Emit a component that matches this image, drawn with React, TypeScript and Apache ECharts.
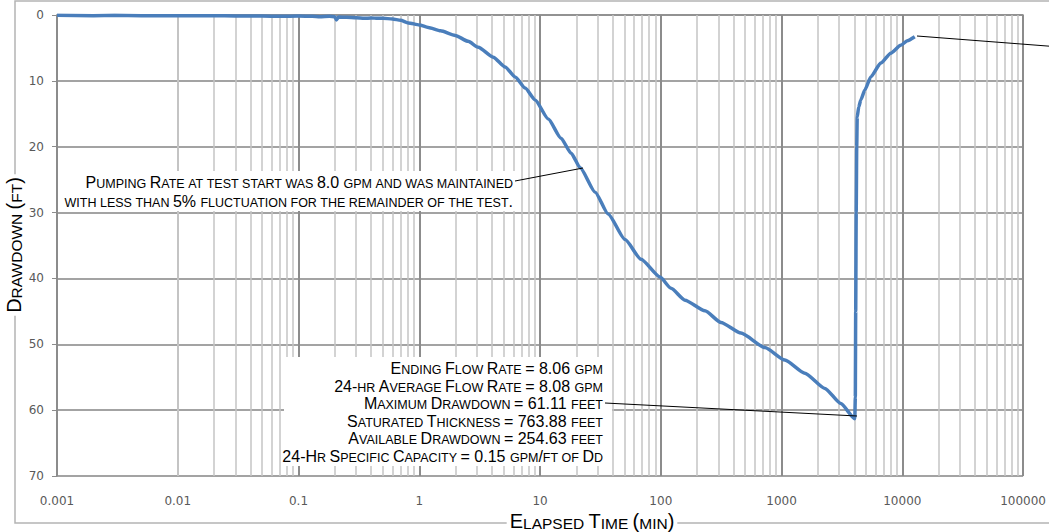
import React, { useEffect, useRef } from "react";
import * as echarts from "echarts";

// ---- data ----
const elapsedTime: number[] = [
  0.001, 0.002, 0.003, 0.005, 0.007, 0.01, 0.02, 0.03, 0.05, 0.07, 0.1, 0.13, 0.15, 0.18, 0.2, 0.206, 0.215,
  0.25, 0.3, 0.35, 0.4, 0.45, 0.5, 0.6, 0.7, 0.811, 1.0, 1.187, 1.5, 1.985, 2.54, 3.08, 4.09, 5.14, 6.22,
  7.53, 9.11, 11.7, 14.9, 18.1, 21.5, 28.6, 36.6, 50.6, 68.6, 98.5, 121.5, 158.6, 232, 315, 461, 728,
  1065, 1558, 2281, 3094, 4040,
  4080, 4110, 4150, 4190, 4230, 4350, 4530, 4890, 5480, 6630, 8020, 9700, 11000, 12670,
];
const drawdownFt: number[] = [
  0.05, 0.1, 0.05, 0.1, 0.1, 0.1, 0.1, 0.15, 0.15, 0.2, 0.15, 0.2, 0.25, 0.2, 0.25, 0.75, 0.3,
  0.35, 0.4, 0.5, 0.45, 0.5, 0.5, 0.6, 0.8, 1.2, 1.5, 1.9, 2.4, 3.1, 4.0, 4.9, 6.4, 7.9, 9.4,
  11.1, 12.9, 15.8, 18.7, 21.0, 23.2, 26.9, 30.2, 34.1, 37.1, 39.8, 41.5, 43.3, 44.9, 46.7, 48.3, 50.5,
  52.4, 54.4, 56.7, 59.0, 61.3,
  58, 45, 30, 20, 15.5, 14, 12.9, 11.4, 9.4, 7.3, 5.8, 4.6, 3.9, 3.3,
];
const xTickLabels: string[] = ["0.001", "0.01", "0.1", "1", "10", "100", "1000", "10000", "100000"];
const xMinExp = -3;
const yTicks: number[] = [0, 10, 20, 30, 40, 50, 60, 70];

const pumpingNote: string[] = [
  "Pumping Rate at test start was 8.0 gpm and was maintained",
  "with less than 5% fluctuation for the remainder of the test.",
];
const summaryNote: string[] = [
  "Ending Flow Rate = 8.06 gpm",
  "24-hr Average Flow Rate = 8.08 gpm",
  "Maximum Drawdown = 61.11 feet",
  "Saturated Thickness = 763.88 feet",
  "Available Drawdown = 254.63 feet",
  "24-Hr Specific Capacity = 0.15 gpm/ft of Dd",
];
const xTitle = "Elapsed Time (min)";
const yTitle = "Drawdown (ft)";

const FONT = "'Liberation Sans', Arial, sans-serif";
const TICK_FONT = "'DejaVu Sans', Verdana, sans-serif";

function smallCaps(str: string, big: number, small: number, color = "#000") {
  let out = "";
  let cur = "";
  let curCls = "";
  const flush = () => {
    if (cur) out += `{${curCls}|${cur}}`;
    cur = "";
  };
  for (const ch of str) {
    let cls: string;
    if (ch === " ") cls = curCls || "b";
    else if (ch >= "a" && ch <= "z") cls = "s";
    else cls = "b";
    if (cls !== curCls) {
      flush();
      curCls = cls;
    }
    const c = ch === " " ? "\u00A0" : cls === "s" ? ch.toUpperCase() : ch;
    cur += c;
  }
  flush();
  const lh = Math.round(big * 1.2);
  return {
    text: out,
    rich: {
      b: { fontSize: big, fontFamily: FONT, fill: color, verticalAlign: "bottom", lineHeight: lh },
      s: { fontSize: small, fontFamily: FONT, fill: color, verticalAlign: "bottom", lineHeight: lh },
    },
  };
}

function textEl(str: string, x: number, y: number, align: string, big: number, small: number, extra: any = {}) {
  const sc = smallCaps(str, big, small);
  const { style: extraStyle, ...rest } = extra;
  return {
    type: "text",
    x,
    y,
    z: 20,
    ...rest,
    style: {
      text: sc.text,
      rich: sc.rich,
      align,
      verticalAlign: "middle",
      ...(extraStyle || {}),
    },
  };
}

export default function App() {
  const ref = useRef<HTMLDivElement>(null);
  useEffect(() => {
    document.body.style.margin = "0";
    if (!ref.current) return;
    const chart = echarts.init(ref.current, undefined, { renderer: "svg" });

    const minorLines: any[] = [];
    for (let e = xMinExp; e < xMinExp + xTickLabels.length - 1; e++) {
      for (let m = 2; m <= 9; m++) {
        minorLines.push({ xAxis: m * Math.pow(10, e) });
      }
    }

    const seriesData = elapsedTime.map((t, i) => [t, drawdownFt[i]]);

    const graphics: any[] = [
      // outer border
      {
        type: "rect",
        z: 0,
        shape: { x: 15, y: 1, width: 1100, height: 522 },
        style: { fill: "none", stroke: "#b4b4b4", lineWidth: 1.5 },
      },
      // pumping note box
      {
        type: "rect",
        z: 15,
        shape: { x: 72, y: 171, width: 445, height: 40 },
        style: { fill: "#fff" },
      },
      textEl(pumpingNote[0], 513, 181, "right", 16, 12.5),
      textEl(pumpingNote[1], 513, 200, "right", 16, 12.5),
      {
        type: "line",
        z: 21,
        shape: { x1: 515, y1: 181, x2: 583, y2: 168 },
        style: { stroke: "#000", lineWidth: 1 },
      },
      // summary box
      {
        type: "rect",
        z: 15,
        shape: { x: 284, y: 357, width: 328, height: 109 },
        style: { fill: "#fff" },
      },
      ...summaryNote.map((s, i) => textEl(s, 603, 367 + i * 17.6, "right", 16, 12.5)),
      {
        type: "line",
        z: 21,
        shape: { x1: 605, y1: 403, x2: 857, y2: 416 },
        style: { stroke: "#000", lineWidth: 1 },
      },
      // top-right leader
      {
        type: "line",
        z: 21,
        shape: { x1: 917, y1: 36, x2: 1060, y2: 47 },
        style: { stroke: "#000", lineWidth: 1 },
      },
      // axis titles
      textEl(xTitle, 592, 519, "center", 20, 15.5, {
        style: { backgroundColor: "#fff", padding: [0, 3] },
      }),
      textEl(yTitle, 12, 245, "center", 20, 15.5, {
        rotation: Math.PI / 2,
        style: { backgroundColor: "#fff", padding: [0, 3] },
      }),
    ];

    chart.setOption({
      animation: false,
      backgroundColor: "#fff",
      grid: { left: 57, right: 25, top: 15, bottom: 56, containLabel: false },
      xAxis: {
        type: "log",
        logBase: 10,
        min: Math.pow(10, xMinExp),
        max: Math.pow(10, xMinExp + xTickLabels.length - 1),
        splitNumber: xTickLabels.length - 1,
        axisLine: { show: true, lineStyle: { color: "#8c8c8c", width: 1.5 } },
        axisTick: { show: true, length: 4, lineStyle: { color: "#8c8c8c" } },
        axisLabel: {
          margin: 19,
          color: "#595959",
          fontSize: 12,
          fontFamily: TICK_FONT,
          formatter: (v: number) => {
            const idx = Math.round(Math.log10(v)) - xMinExp;
            return xTickLabels[idx] ?? "";
          },
        },
        splitLine: { show: true, lineStyle: { color: "#8c8c8c", width: 2 } },
      },
      yAxis: {
        type: "value",
        inverse: true,
        min: yTicks[0],
        max: yTicks[yTicks.length - 1],
        interval: yTicks[1] - yTicks[0],
        axisLine: { show: true, lineStyle: { color: "#8c8c8c", width: 1.5 } },
        axisTick: { show: true, length: 5, lineStyle: { color: "#8c8c8c" } },
        axisLabel: { margin: 13, color: "#595959", fontSize: 12, fontFamily: TICK_FONT },
        splitLine: { show: true, lineStyle: { color: "#a3a3a3", width: 2 } },
      },
      series: [
        {
          type: "line",
          z: 1,
          silent: true,
          data: [[Math.pow(10, xMinExp), 0]],
          showSymbol: false,
          symbol: "none",
          lineStyle: { opacity: 0 },
          markLine: {
            silent: true,
            symbol: ["none", "none"],
            label: { show: false },
            lineStyle: { type: "solid", color: "#c4c4c4", width: 1.5 },
            data: minorLines,
          },
        },
        {
          type: "line",
          z: 5,
          data: seriesData,
          showSymbol: false,
          symbol: "none",
          smooth: 0.2,
          smoothMonotone: "x",
          lineStyle: { color: "#4a7ebb", width: 3.5 },
        },
      ],
      graphic: graphics,
    });
    return () => chart.dispose();
  }, []);
  return <div ref={ref} style={{ width: 1049, height: 532 }} />;
}
